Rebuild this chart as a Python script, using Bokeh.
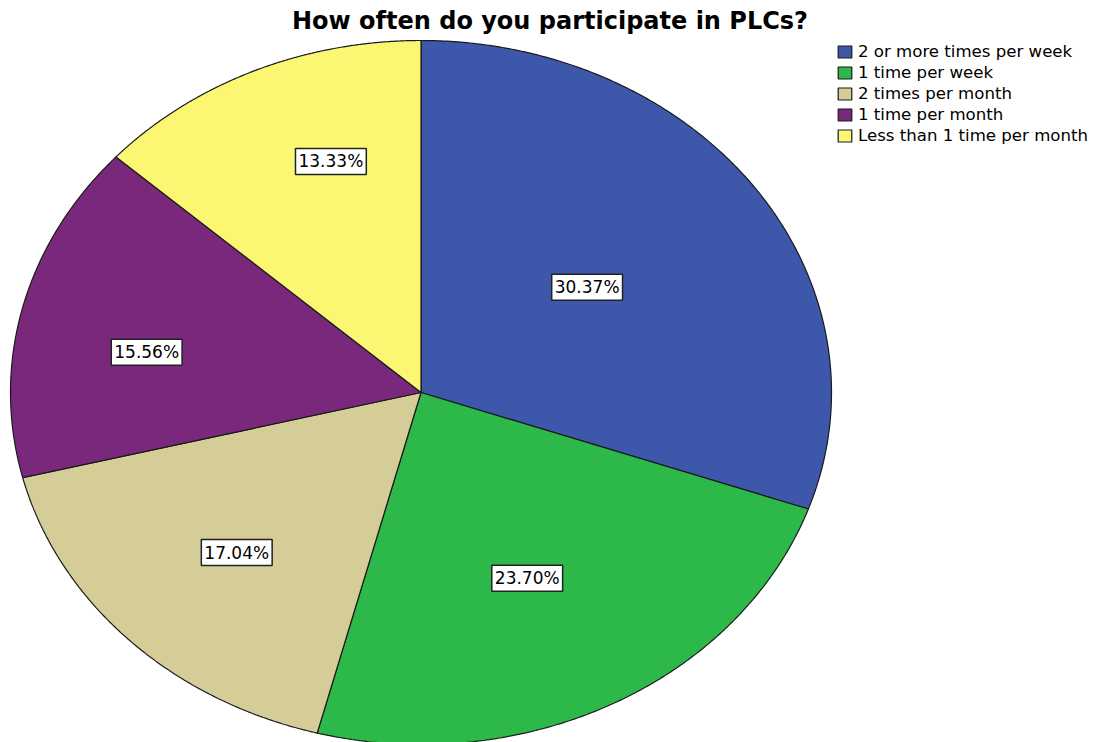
import numpy as np
from bokeh.plotting import figure
from bokeh.models import Range1d, Legend, LegendItem, ColumnDataSource, Label
from bokeh.core.properties import value
from bokeh.embed import file_html
from bokeh.resources import INLINE

# ---- data ----
categories = ["2 or more times per week", "1 time per week", "2 times per month",
              "1 time per month", "Less than 1 time per month"]
percentages = [30.37, 23.70, 17.04, 15.56, 13.33]
labels = ["30.37%", "23.70%", "17.04%", "15.56%", "13.33%"]
title_text = "How often do you participate in PLCs?"

# ---- style / layout ----
colors = ["#3D57AB", "#2DB84A", "#D4CD97", "#7A287C", "#FBF773"]
W, H = 1099, 742
CX, CY, RX, RY = 420.5, 392.0, 410.5, 352.0
label_r = [0.503, 0.588, 0.639, 0.678, 0.692]
label_dtheta = [-1.1, 1.9, -0.7, -4.3, 5.5]
FONT = "DejaVu Sans"

p = figure(width=W, height=H, x_range=Range1d(0, W), y_range=Range1d(H, 0),
           output_backend="svg", toolbar_location=None, min_border=0,
           x_axis_location=None, y_axis_location=None)
p.grid.visible = False
p.outline_line_color = None
p.background_fill_color = "white"

fr = np.array(percentages) / np.sum(percentages)
ends = np.cumsum(fr) * 2 * np.pi
starts = ends - fr * 2 * np.pi

items = []
for i, cat in enumerate(categories):
    t = np.linspace(starts[i], ends[i], 240)
    xs = np.concatenate([[CX], CX + RX * np.sin(t), [CX]])
    ys = np.concatenate([[CY], CY - RY * np.cos(t), [CY]])
    r = p.patch(xs, ys, fill_color=colors[i], line_color="#1a1a1a", line_width=1.2)
    items.append(LegendItem(label=cat, renderers=[r]))

# slice labels
mid = (starts + ends) / 2 + np.radians(label_dtheta)
lx = CX + RX * np.array(label_r) * np.sin(mid)
ly = CY - RY * np.array(label_r) * np.cos(mid)
src = ColumnDataSource(dict(x=lx, y=ly, text=labels))
p.text(x="x", y="y", text="text", source=src, text_align="center",
       text_baseline="middle", text_font=value(FONT), text_font_size="17px",
       text_color="black", background_fill_color="white",
       border_line_color="#222222", border_line_width=1.5, padding=3)

title = Label(x=W / 2, y=20, text=title_text, text_align="center",
              text_baseline="middle", text_font=FONT, text_font_size="24px",
              text_font_style="bold", text_color="black")
p.add_layout(title)

legend = Legend(items=items, location=(836, 597), orientation="vertical",
                padding=0, margin=0, spacing=2, glyph_width=17, glyph_height=15,
                label_height=19, label_standoff=5, label_text_font=FONT,
                label_text_font_size="16.6px", label_text_color="black",
                border_line_color=None, background_fill_alpha=0)
p.add_layout(legend)

open("out.html", "w").write(file_html(p, INLINE))
